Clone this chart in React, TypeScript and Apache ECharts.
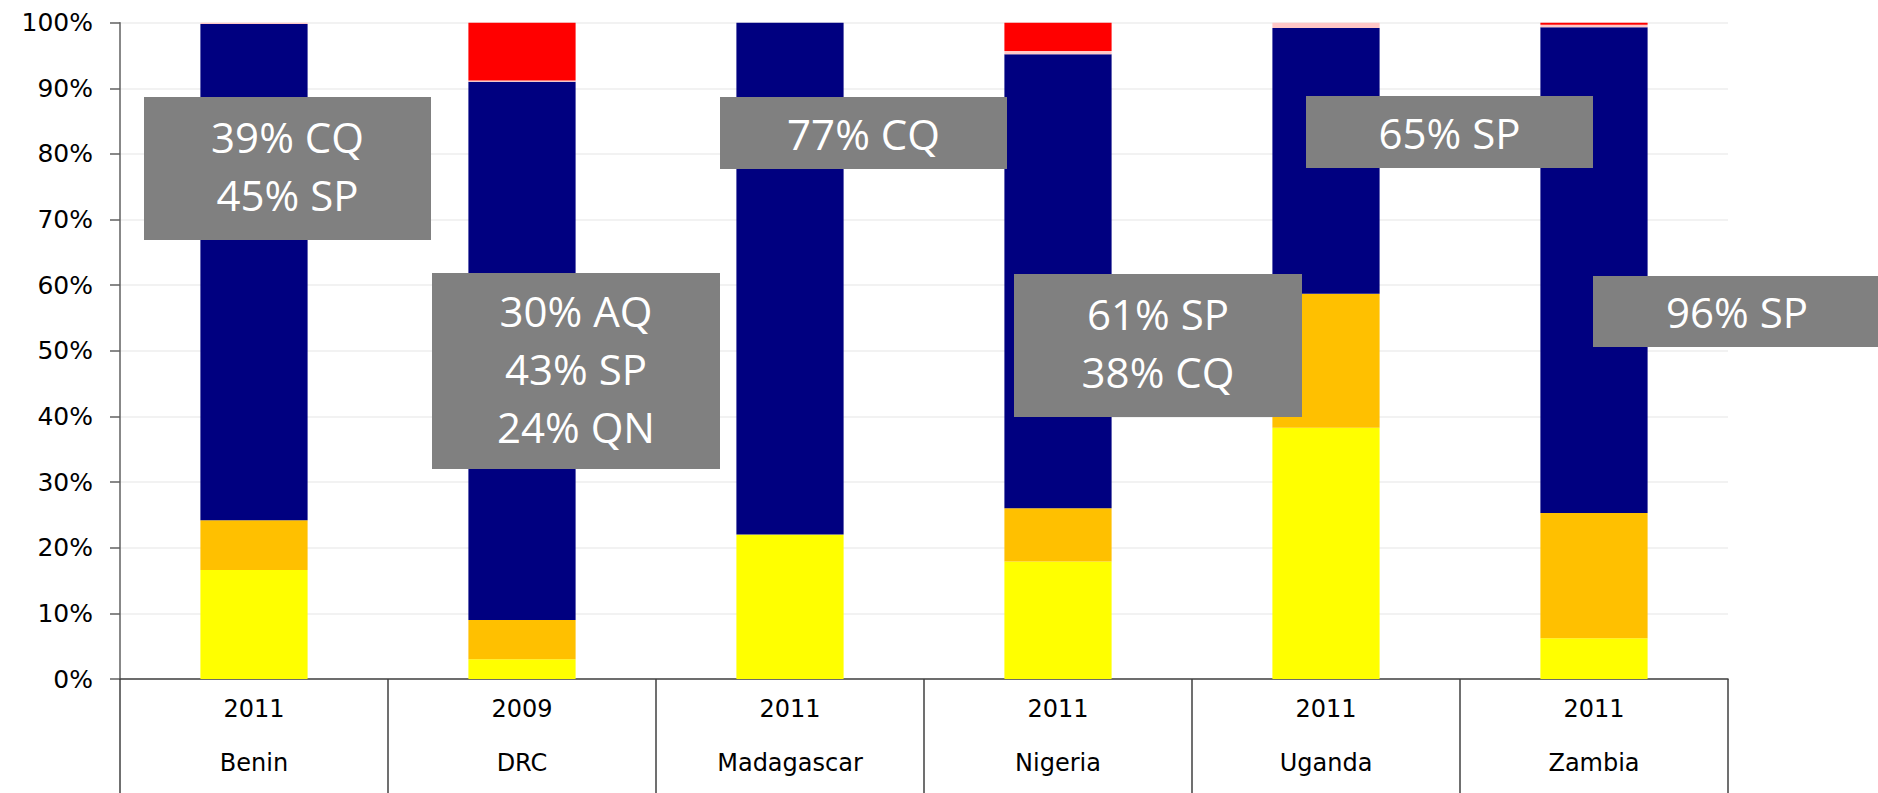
import React, { useEffect, useRef } from "react";
import * as echarts from "echarts";

const years = ["2011", "2009", "2011", "2011", "2011", "2011"];
const countries = ["Benin", "DRC", "Madagascar", "Nigeria", "Uganda", "Zambia"];

// stacked shares (%) bottom to top
const yellowVals = [16.6, 3.0, 22.0, 17.9, 38.3, 6.2];
const orangeVals = [7.6, 6.0, 0, 8.1, 20.4, 19.1];
const navyVals = [75.6, 82.0, 78.0, 69.2, 40.5, 74.0];
const pinkVals = [0.2, 0.2, 0, 0.5, 0.8, 0.4];
const redVals = [0, 8.8, 0, 4.3, 0, 0.3];

const annotationTexts = [
  "39% CQ\n45% SP",
  "30% AQ\n43% SP\n24% QN",
  "77% CQ",
  "61% SP\n38% CQ",
  "65% SP",
  "96% SP",
];

// box layout (x, y, w, h) in pixels
const boxLayout = [
  [144, 97, 287, 143],
  [432, 273, 288, 196],
  [720, 97, 287, 72],
  [1014, 274, 288, 143],
  [1306, 96, 287, 72],
  [1593, 276, 288, 71],
];

export default function App() {
  const ref = useRef<HTMLDivElement>(null);
  useEffect(() => {
    if (!ref.current) return;
    const chart = echarts.init(ref.current, undefined, { renderer: "svg" });
    const labels = years.map((y, i) => `${y}\n${countries[i]}`);
    const mk = (name: string, data: number[], color: string) => ({
      name,
      type: "bar",
      stack: "total",
      data,
      barWidth: "40%",
      itemStyle: { color },
    });
    const graphic: any[] = [];
    boxLayout.forEach(([x, y, w, h], i) => {
      const multi = annotationTexts[i].includes("\n");
      graphic.push({
        type: "rect",
        z: 100,
        shape: { x, y, width: w, height: h },
        style: { fill: "#808080" },
      });
      graphic.push({
        type: "text",
        z: 101,
        x: x + w / 2,
        y: y + h / 2 - (multi ? 3 : 0),
        style: {
          text: annotationTexts[i],
          fill: "#ffffff",
          fontSize: 42,
          fontFamily: "Open Sans",
          align: "center",
          verticalAlign: "middle",
          lineHeight: 58,
        },
      });
    });
    chart.setOption({
      animation: false,
      backgroundColor: "#ffffff",
      grid: {
        left: 120,
        top: 22.7,
        right: 150,
        bottom: 114,
        containLabel: false,
        outerBoundsMode: "none",
      },
      xAxis: {
        type: "category",
        data: labels,
        axisLine: { show: true, lineStyle: { color: "#404040", width: 1.5 } },
        axisTick: { show: true, length: 120, lineStyle: { color: "#404040", width: 1.5 } },
        axisLabel: {
          fontSize: 24,
          fontFamily: "DejaVu Sans",
          color: "#000",
          lineHeight: 54,
          margin: 3,
          interval: 0,
        },
      },
      yAxis: {
        type: "value",
        min: 0,
        max: 100,
        interval: 10,
        axisLine: { show: true, lineStyle: { color: "#606060", width: 1.5 } },
        axisTick: { show: true, length: 10, lineStyle: { color: "#606060", width: 1.5 } },
        axisLabel: {
          formatter: "{value}%",
          fontSize: 25,
          fontFamily: "DejaVu Sans",
          color: "#000",
          margin: 27,
        },
        splitLine: { show: true, lineStyle: { color: "#eeeeee", width: 1.5 } },
      },
      series: [
        mk("Yellow", yellowVals, "#FFFF00"),
        mk("Orange", orangeVals, "#FFC000"),
        mk("Navy", navyVals, "#000080"),
        mk("Pink", pinkVals, "#FFC7C7"),
        mk("Red", redVals, "#FF0000"),
      ],
      graphic,
    });
    return () => chart.dispose();
  }, []);
  return (
    <div
      ref={ref}
      style={{ position: "absolute", left: 0, top: 0, width: 1878, height: 793 }}
    />
  );
}
